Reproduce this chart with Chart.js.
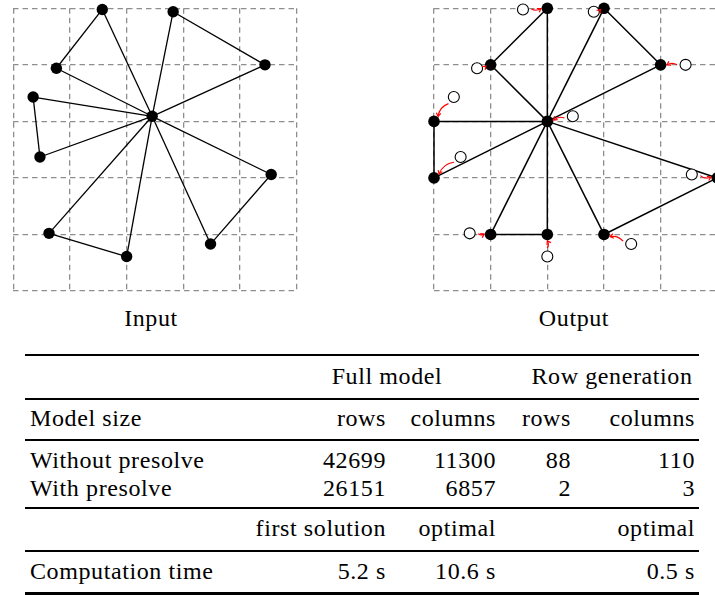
<!DOCTYPE html>
<html>
<head>
<meta charset="utf-8">
<script src="https://cdn.jsdelivr.net/npm/chart.js@4.4.1/dist/chart.umd.min.js"></script>
<style>
html, body { margin: 0; padding: 0; overflow: hidden; background: #fff; }
body { width: 715px; height: 595px; position: relative; font-size: 24px; font-family: "Liberation Serif", serif; }
canvas { position: absolute; top: 0; }
.ser { font-family: "Liberation Serif", serif; letter-spacing: 0.6px; }
.cap { position: absolute; top: 305px; width: 400px; text-align: center; }
.rule { position: absolute; left: 25px; width: 674px; background: #000; }
</style>
</head>
<body>
<div class="ser cap" style="left:-49px">Input</div>
<div class="ser cap" style="left:374px">Output</div>
<canvas id="inputChart" width="310" height="300" style="left:0px"></canvas>
<canvas id="outputChart" width="310" height="300" style="left:420px"></canvas>
<div id="table"></div>
<script>
// node positions in grid units (node 0 is the hub)
var inputX = [2.45, 1.57, 2.82, 4.44, 0.76, 0.35, 0.47, 4.55, 0.63, 2.00, 3.48];
var inputY = [3.09, 4.98, 4.94, 4.00, 3.94, 3.43, 2.37, 2.06, 1.02, 0.61, 0.83];
var outputX = [2, 2, 3, 4, 1, 0, 0, 5, 1, 2, 3];
var outputY = [3, 5, 5, 4, 4, 3, 2, 2, 1, 1, 1];
var edges = [[0,1],[0,2],[0,3],[0,4],[0,5],[0,6],[0,7],[0,8],[0,9],[0,10],
	[1,4],[2,3],[5,6],[7,10],[8,9]];

// table contents
var groupHeads = ["Full model", "Row generation"];
var sizeHeads = ["rows", "columns", "rows", "columns"];
var rowLabels = ["Without presolve", "With presolve"];
var fullRows = [42699, 26151];
var fullCols = [11300, 6857];
var rowGenRows = [88, 2];
var rowGenCols = [110, 3];
var timeHeads = ["first solution", "optimal", "", "optimal"];
var timeValues = ["5.2 s", "10.6 s", "", "0.5 s"];

// table as html text
var tbl = document.getElementById("table");
var ASC = 22; // baseline offset from the box top for 24px, normal line height

function put(text, x, baseline, align) {
	var d = document.createElement("div");
	d.textContent = text;
	d.className = "ser";
	d.style.position = "absolute";
	d.style.top = Math.round(baseline - ASC) + "px";
	d.style.width = "400px";
	if (align === "left") {
		d.style.left = x + "px";
	} else if (align === "right") {
		d.style.left = (x - 400) + "px";
		d.style.textAlign = "right";
	} else {
		d.style.left = (x - 200) + "px";
		d.style.textAlign = "center";
	}
	tbl.appendChild(d);
}

function rule(y, h) {
	var r = document.createElement("div");
	r.className = "rule";
	r.style.top = (y - h / 2) + "px";
	r.style.height = h + "px";
	tbl.appendChild(r);
}

var colRight = [386, 496, 571, 695];
rule(355, 2.7);
put(groupHeads[0], 387, 385, "center");
put(groupHeads[1], 612, 385, "center");
rule(398.5, 2);
put("Model size", 30, 427, "left");
sizeHeads.forEach(function(h, i) { put(h, colRight[i], 427, "right"); });
rule(440, 2);
var baseRows = [469, 497];
rowLabels.forEach(function(lbl, r) {
	put(lbl, 30, baseRows[r], "left");
	put(String(fullRows[r]), colRight[0], baseRows[r], "right");
	put(String(fullCols[r]), colRight[1], baseRows[r], "right");
	put(String(rowGenRows[r]), colRight[2], baseRows[r], "right");
	put(String(rowGenCols[r]), colRight[3], baseRows[r], "right");
});
rule(508, 2.7);
timeHeads.forEach(function(h, i) { if (h) put(h, colRight[i], 537, "right"); });
rule(551, 2);
put("Computation time", 30, 580, "left");
timeValues.forEach(function(v, i) { if (v) put(v, colRight[i], 580, "right"); });
rule(593.5, 2.7);

function points(xs, ys) {
	var out = [];
	for (var i = 0; i < xs.length; i++) {
		out.push({x: xs[i], y: ys[i]});
	}
	return out;
}

function edgeSets(xs, ys, width) {
	return edges.map(function(e) {
		return {
			showLine: true,
			data: [{x: xs[e[0]], y: ys[e[0]]}, {x: xs[e[1]], y: ys[e[1]]}],
			borderColor: "#000",
			borderWidth: width,
			pointRadius: 0,
			clip: false,
			order: 2
		};
	});
}

function gridAxis() {
	return {
		type: "linear",
		min: 0,
		max: 5,
		ticks: {display: false, stepSize: 1},
		grid: {color: "#8e8e8e", lineWidth: 1.3, drawTicks: false},
		border: {display: false, dash: [5.5, 4]}
	};
}

function baseOptions(padding) {
	return {
		responsive: false,
		animation: false,
		layout: {padding: padding},
		plugins: {legend: {display: false}, tooltip: {enabled: false}},
		scales: {x: gridAxis(), y: gridAxis()}
	};
}

// red bent arrows from old (input) position to new (output) position
var arrowPlugin = {
	id: "moveArrows",
	afterDatasetsDraw: function(chart) {
		var ctx = chart.ctx;
		var sx = chart.scales.x, sy = chart.scales.y;
		ctx.save();
		ctx.strokeStyle = "#ff0000";
		ctx.lineWidth = 1.2;
		for (var i = 0; i < inputX.length; i++) {
			var x0 = sx.getPixelForValue(inputX[i]), y0 = sy.getPixelForValue(inputY[i]);
			var x1 = sx.getPixelForValue(outputX[i]), y1 = sy.getPixelForValue(outputY[i]);
			var dx = x1 - x0, dy = y1 - y0;
			var len = Math.sqrt(dx * dx + dy * dy);
			var ux = dx / len, uy = dy / len;
			var s = Math.min(8.5, len * 0.5), e = Math.min(6.5, len * 0.35);
			var ax = x0 + ux * s, ay = y0 + uy * s;
			var bx = x1 - ux * e, by = y1 - uy * e;
			var l = Math.sqrt((bx - ax) * (bx - ax) + (by - ay) * (by - ay));
			var cx = (ax + bx) / 2 - uy * l * 0.3, cy = (ay + by) / 2 + ux * l * 0.3;
			ctx.beginPath();
			ctx.moveTo(ax, ay);
			ctx.quadraticCurveTo(cx, cy, bx, by);
			ctx.stroke();
			var ang = Math.atan2(by - cy, bx - cx);
			ctx.beginPath();
			ctx.moveTo(bx - 4 * Math.cos(ang - 0.6), by - 4 * Math.sin(ang - 0.6));
			ctx.lineTo(bx, by);
			ctx.lineTo(bx - 4 * Math.cos(ang + 0.6), by - 4 * Math.sin(ang + 0.6));
			ctx.stroke();
		}
		ctx.restore();
	}
};

new Chart(document.getElementById("inputChart"), {
	type: "scatter",
	data: {
		datasets: edgeSets(inputX, inputY, 1.3).concat([{
			data: points(inputX, inputY),
			pointRadius: 5.7,
			pointBackgroundColor: "#000",
			pointBorderWidth: 0,
			clip: false,
			order: 0
		}])
	},
	options: baseOptions({left: 13.3, top: 8.3, right: 13.3, bottom: 9})
});

new Chart(document.getElementById("outputChart"), {
	type: "scatter",
	data: {
		datasets: edgeSets(outputX, outputY, 1.5).concat([{
			data: points(inputX, inputY),
			pointRadius: 5.5,
			pointBackgroundColor: "#fff",
			pointBorderColor: "#000",
			pointBorderWidth: 1.1,
			clip: false,
			order: 1
		}, {
			data: points(outputX, outputY),
			pointRadius: 5.8,
			pointBackgroundColor: "#000",
			pointBorderWidth: 0,
			clip: false,
			order: 0
		}])
	},
	options: baseOptions({left: 14, top: 8.3, right: 12.7, bottom: 9}),
	plugins: [arrowPlugin]
});
</script>
</body>
</html>
